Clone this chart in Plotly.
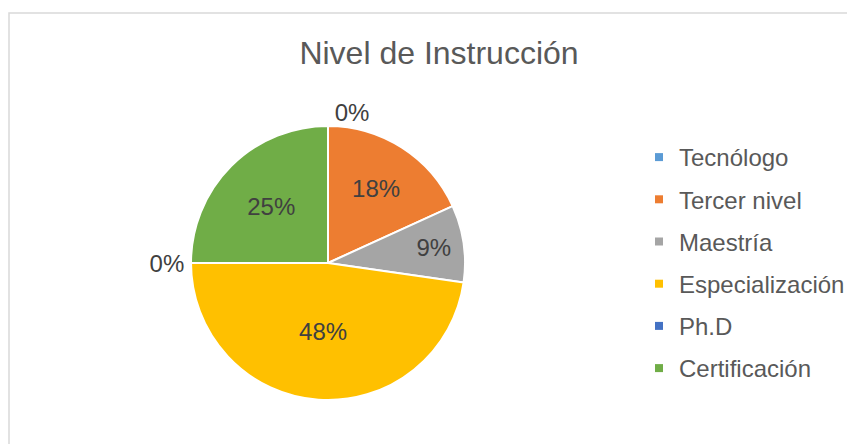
import plotly.graph_objects as go

# Nivel de instrucción
labels = ['Tecnólogo', 'Tercer nivel', 'Maestría', 'Especialización', 'Ph.D', 'Certificación']
values = [0, 8, 4, 21, 0, 11]
colors = ['#5B9BD5', '#ED7D31', '#A5A5A5', '#FFC000', '#4472C4', '#70AD47']

W, H = 855, 444
FONT = 'Liberation Sans, Arial'
positions = ['outside' if v == 0 else 'inside' for v in values]

fig = go.Figure()
fig.add_trace(go.Pie(
    labels=labels, values=values, sort=False, direction='clockwise', rotation=0,
    marker=dict(colors=colors, line=dict(color='white', width=2)),
    texttemplate='%{percent:.0%}', textposition=positions,
    insidetextorientation='horizontal',
    textfont=dict(family=FONT, size=24, color='#404040'),
    outsidetextfont=dict(family=FONT, size=24, color='#404040'),
    domain=dict(x=[183 / W, 457 / W], y=[1 - 392 / H, 1 - 118 / H]),
    hoverinfo='label+percent', showlegend=False,
))

# legend entries (spaced like the original)
for lab, col in zip(labels, colors):
    fig.add_trace(go.Scatter(x=[None], y=[None], mode='markers', name=lab,
                             legendgroup=lab,
                             marker=dict(symbol='square', size=8, color=col)))

fig.update_layout(
    width=W, height=H,
    margin=dict(l=0, r=0, t=0, b=0),
    paper_bgcolor='white', plot_bgcolor='white',
    xaxis=dict(visible=False), yaxis=dict(visible=False),
    title=dict(text='Nivel de Instrucción', x=431 / W, xanchor='center',
               y=1 - 45 / H, yanchor='middle',
               font=dict(family=FONT, size=32, color='#595959')),
    legend=dict(x=631 / W, xanchor='left', y=1 - 255 / H, yanchor='middle',
                font=dict(family=FONT, size=24, color='#595959'),
                traceorder='grouped', tracegroupgap=8),
    shapes=[dict(type='rect', xref='paper', yref='paper',
                 x0=1 / W, x1=1.2, y0=-0.2, y1=1 - 5 / H,
                 line=dict(color='#D9D9D9', width=1.5))],
)

fig.write_html('out.html')
